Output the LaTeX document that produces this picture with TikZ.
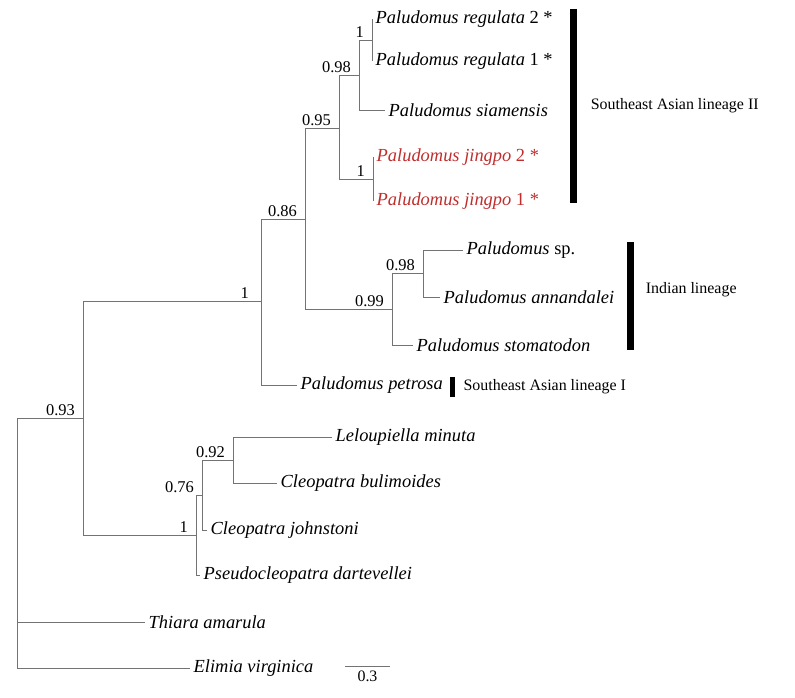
\documentclass[tikz,border=0pt]{standalone}
\usepackage{fontspec}
\setmainfont{Liberation Serif}
\usepackage{tikz, xcolor}

\definecolor{jingpored}{RGB}{192,45,45}

\begin{document}
\begin{tikzpicture}[
  x=1bp, y=-1bp,
  branch/.style={
    % The line:
    draw=black!55,
    line width=0.8bp
  },
  taxon/.style={
    % text starts right after the branch end
    anchor=west,
    inner sep=3.5bp,
    font=\fontsize{18.5}{21}\selectfont\itshape
  },
  newtaxon/.style={taxon, text=jingpored},
  support/.style={
    % posterior value, just left of the node
    anchor=south east,
    inner sep=2bp,
    xshift=-6bp,
    font=\fontsize{16.5}{19}\selectfont
  },
  cladebar/.style={line width=7bp},
  lineage/.style={
    anchor=west,
    font=\fontsize{16}{19}\selectfont
  },
  ]

  \useasboundingbox (0,0) rectangle (795,698);

  % internal nodes
  \coordinate (root) at (17,543);
  \coordinate (n093) at (83,418);
  \coordinate (nPal) at (261,301);
  \coordinate (n086) at (305,219);
  \coordinate (n095) at (339,128);
  \coordinate (n098) at (359,75);
  \coordinate (nReg) at (372,40);
  \coordinate (nJin) at (373,179);
  \coordinate (n099) at (392,309);
  \coordinate (nInd) at (423,273);
  \coordinate (nCle) at (196,535);
  \coordinate (n076) at (202,495);
  \coordinate (n092) at (233,460);

  % tips
  \node (reg2) [taxon] at (372,19) {Paludomus regulata \textup{2 *}};
  \node (reg1) [taxon] at (372,61) {Paludomus regulata \textup{1 *}};
  \node (siam) [taxon] at (385,110) {Paludomus siamensis};
  \node (jin2) [newtaxon] at (373,157) {Paludomus jingpo \textup{2 *}};
  \node (jin1) [newtaxon] at (373,201) {Paludomus jingpo \textup{1 *}};
  \node (psp) [taxon] at (463,250) {Paludomus \textup{sp.}};
  \node (anna) [taxon] at (440,297) {Paludomus annandalei};
  \node (stom) [taxon] at (413,345) {Paludomus stomatodon};
  \node (petr) [taxon] at (297,385) {Paludomus petrosa};
  \node (lelo) [taxon] at (332,437) {Leloupiella minuta};
  \node (buli) [taxon] at (277,483) {Cleopatra bulimoides};
  \node (john) [taxon] at (207,530) {Cleopatra johnstoni};
  \node (dart) [taxon] at (200,575) {Pseudocleopatra dartevellei};
  \node (thia) [taxon] at (145,622) {Thiara amarula};
  \node (elim) [taxon] at (190,668) {Elimia virginica};

  % branches
  \draw [branch] (root) |- (n093);
  \draw [branch] (root) |- (thia.west);
  \draw [branch] (root) |- (elim.west);
  \draw [branch] (n093) |- (nPal);
  \draw [branch] (n093) |- (nCle);
  \draw [branch] (nPal) |- (n086);
  \draw [branch] (nPal) |- (petr.west);
  \draw [branch] (n086) |- (n095);
  \draw [branch] (n086) |- (n099);
  \draw [branch] (n095) |- (n098);
  \draw [branch] (n095) |- (nJin);
  \draw [branch] (n098) |- (nReg);
  \draw [branch] (n098) |- (siam.west);
  \draw [branch] (nReg) |- (reg2.west);
  \draw [branch] (nReg) |- (reg1.west);
  \draw [branch] (nJin) |- (jin2.west);
  \draw [branch] (nJin) |- (jin1.west);
  \draw [branch] (n099) |- (nInd);
  \draw [branch] (n099) |- (stom.west);
  \draw [branch] (nInd) |- (psp.west);
  \draw [branch] (nInd) |- (anna.west);
  \draw [branch] (nCle) |- (n076);
  \draw [branch] (nCle) |- (dart.west);
  \draw [branch] (n076) |- (n092);
  \draw [branch] (n076) |- (john.west);
  \draw [branch] (n092) |- (lelo.west);
  \draw [branch] (n092) |- (buli.west);

  % support values
  \node (s093) [support] at (n093) {0.93};
  \node (sPal) [support, xshift=-4bp] at (nPal) {1};
  \node (s086) [support] at (n086) {0.86};
  \node (s095) [support] at (n095) {0.95};
  \node (s098) [support] at (n098) {0.98};
  \node (sReg) [support] at (nReg) {1};
  \node (sJin) [support] at (nJin) {1};
  \node (s099) [support] at (n099) {0.99};
  \node (sInd) [support] at (nInd) {0.98};
  \node (sCle) [support] at (nCle) {1};
  \node (s076) [support] at (n076) {0.76};
  \node (s092) [support] at (n092) {0.92};

  % lineage bars
  \coordinate (barIIa) at (573,9);
  \coordinate (barIIb) at (573,203);
  \coordinate (barIna) at (630,242);
  \coordinate (barInb) at (630,350);
  \coordinate (barIa) at (452.5,377);
  \coordinate (barIb) at (452.5,397);
  \draw [cladebar] (barIIa) -- (barIIb)
    node (linII) [midway, lineage, xshift=11bp] {Southeast Asian lineage II};
  \draw [cladebar] (barIna) -- (barInb)
    node (linIn) [midway, lineage, xshift=9bp, yshift=6bp] {Indian lineage};
  \draw [cladebar, line width=5.5bp] (barIa) -- (barIb)
    node (linI) [midway, lineage, xshift=5bp] {Southeast Asian lineage I};

  % scale bar
  \coordinate (sclA) at (345,666);
  \coordinate (sclB) at (390,666);
  \draw [branch] (sclA) -- (sclB)
    node (scl) [midway, below=1bp, font=\fontsize{16}{19}\selectfont] {0.3};

\end{tikzpicture}
\end{document}
